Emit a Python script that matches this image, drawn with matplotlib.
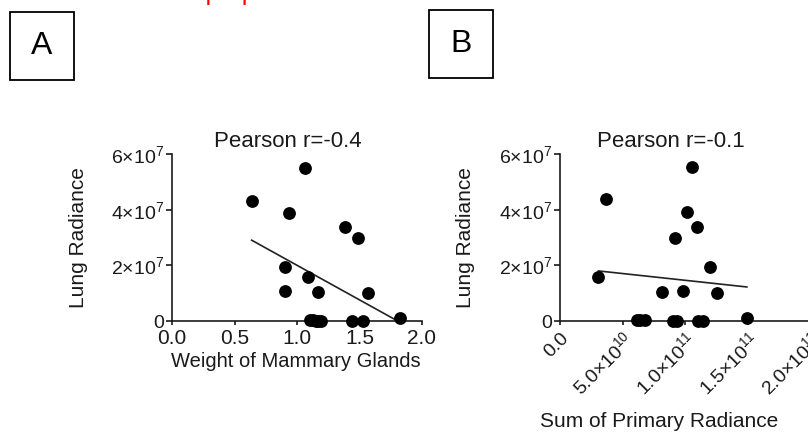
import numpy as np
import matplotlib
matplotlib.use("Agg")
import matplotlib.pyplot as plt
from matplotlib.patches import Rectangle

plt.rcParams['font.family'] = ['Liberation Sans', 'DejaVu Sans']
plt.rcParams['mathtext.fontset'] = 'custom'
plt.rcParams['mathtext.rm'] = 'Liberation Sans'
plt.rcParams['mathtext.it'] = 'Liberation Sans:italic'
plt.rcParams['mathtext.bf'] = 'Liberation Sans:bold'

# ---------------- data ----------------
mammary_weight = [0.637, 1.06, 0.933, 1.384, 1.49, 0.907, 0.90, 1.09, 1.165,
                  1.57, 1.824, 1.104, 1.13, 1.15, 1.17, 1.19, 1.44, 1.53]
lung_radiance_a = [4.31e7, 5.48e7, 3.89e7, 3.37e7, 2.98e7, 1.94e7, 1.09e7, 1.59e7, 1.05e7,
                   1.0e7, 0.10e7, 0.05e7, 0.05e7, 0.0, 0.0, 0.0, 0.0, 0.0]

primary_radiance = [3.06e10, 3.64e10, 10.5e10, 10.13e10, 10.9e10, 9.17e10, 11.96e10, 8.11e10,
                    9.78e10, 12.5e10, 14.89e10, 6.11e10, 6.38e10, 6.78e10, 9.04e10, 9.35e10,
                    11.03e10, 11.43e10]
lung_radiance_b = [1.57e7, 4.38e7, 5.52e7, 3.92e7, 3.39e7, 2.99e7, 1.94e7, 1.04e7,
                   1.09e7, 1.0e7, 0.11e7, 0.03e7, 0.03e7, 0.03e7, 0.0, 0.0, 0.0, 0.0]

title_a = "Pearson r=-0.4"
title_b = "Pearson r=-0.1"
xlabel_a = "Weight of Mammary Glands"
xlabel_b = "Sum of Primary Radiance"
ylabel_txt = "Lung Radiance"
panel_letters = ["A", "B"]
top_note = "Shown for reference purpose"

yticks = [0, 2e7, 4e7, 6e7]
ytick_labels = ["0", r"$2{\times}10^{7}$", r"$4{\times}10^{7}$", r"$6{\times}10^{7}$"]
xticks_a = [0.0, 0.5, 1.0, 1.5, 2.0]
xtick_labels_a = ["0.0", "0.5", "1.0", "1.5", "2.0"]
xticks_b = [0.0, 5e10, 1e11, 1.5e11, 2e11]
xtick_labels_b = ["0.0", r"$5.0{\times}10^{10}$", r"$1.0{\times}10^{11}$",
                  r"$1.5{\times}10^{11}$", r"$2.0{\times}10^{11}$"]

# ---------------- figure ----------------
W, H = 808, 437
fig = plt.figure(figsize=(W / 100, H / 100), dpi=100)
TXT = "#1a1a1a"


def px_axes(x0, y_bottom, w, h):
    return fig.add_axes([x0 / W, (H - y_bottom) / H, w / W, h / H])


def style(ax):
    for s in ("top", "right"):
        ax.spines[s].set_visible(False)
    for s in ("left", "bottom"):
        ax.spines[s].set_linewidth(1.2)
        ax.spines[s].set_color(TXT)
    ax.tick_params(direction="out", width=1.2, color=TXT)
    ax.tick_params(axis="y", length=4.5, pad=1)
    ax.tick_params(axis="x", length=3, pad=2.5)
    ax.set_ylim(0, 6e7)
    ax.set_yticks(yticks)
    ax.set_yticklabels(ytick_labels, fontsize=14, color=TXT)


def draw(ax, x, y, xlim):
    ax.scatter(x, y, s=85, color="black", clip_on=False, zorder=3, linewidths=0)
    coef = np.polyfit(x, y, 1)
    xs = np.array([min(x), max(x)])
    ax.plot(xs, np.polyval(coef, xs), color="#222222", lw=1.2, zorder=2)
    ax.set_xlim(*xlim)


axA = px_axes(172, 321, 250, 167)
style(axA)
draw(axA, mammary_weight, lung_radiance_a, (0, 2))
axA.set_xticks(xticks_a)
axA.set_xticklabels(xtick_labels_a, fontsize=15, color=TXT)
axA.text(0.464, 1.04, title_a, transform=axA.transAxes, ha="center", va="baseline",
         fontsize=16, color=TXT)
axA.text(0.496, -0.245, xlabel_a, transform=axA.transAxes, ha="center", va="center",
         fontsize=14.5, color=TXT)
axA.text(-0.375, 0.5, ylabel_txt, transform=axA.transAxes, ha="center", va="center",
         rotation=90, fontsize=15, color=TXT)

axB = px_axes(560, 321, 251, 167)
style(axB)
draw(axB, primary_radiance, lung_radiance_b, (0, 2e11))
axB.set_xticks(xticks_b)
axB.set_xticklabels(xtick_labels_b, fontsize=14, color=TXT, rotation=45,
                    ha="right", va="top", rotation_mode="anchor")
axB.tick_params(axis="x", pad=3)
axB.text(0.442, 1.04, title_b, transform=axB.transAxes, ha="center", va="baseline",
         fontsize=16, color=TXT)
axB.text(0.395, -0.6, xlabel_b, transform=axB.transAxes, ha="center", va="center",
         fontsize=15, color=TXT)
axB.text(-0.378, 0.5, ylabel_txt, transform=axB.transAxes, ha="center", va="center",
         rotation=90, fontsize=15, color=TXT)

# panel letter boxes
for (bx, by, bw, bh), letter in zip([(10, 12, 64, 68), (429, 10, 64, 68)], panel_letters):
    fig.add_artist(Rectangle((bx / W, (H - by - bh) / H), bw / W, bh / H,
                             transform=fig.transFigure, fill=False,
                             edgecolor="black", lw=1.3))
    fig.text((bx + bw / 2) / W, (H - by - bh / 2) / H, letter, ha="center",
             va="center", fontsize=23, color="black")

# red note, almost entirely above the visible area (only its bottom edge shows)
fig.text(296 / W, 1.0, top_note, ha="right", va="baseline",
         fontsize=18, color="red")

fig.savefig("out.png", dpi=100)
